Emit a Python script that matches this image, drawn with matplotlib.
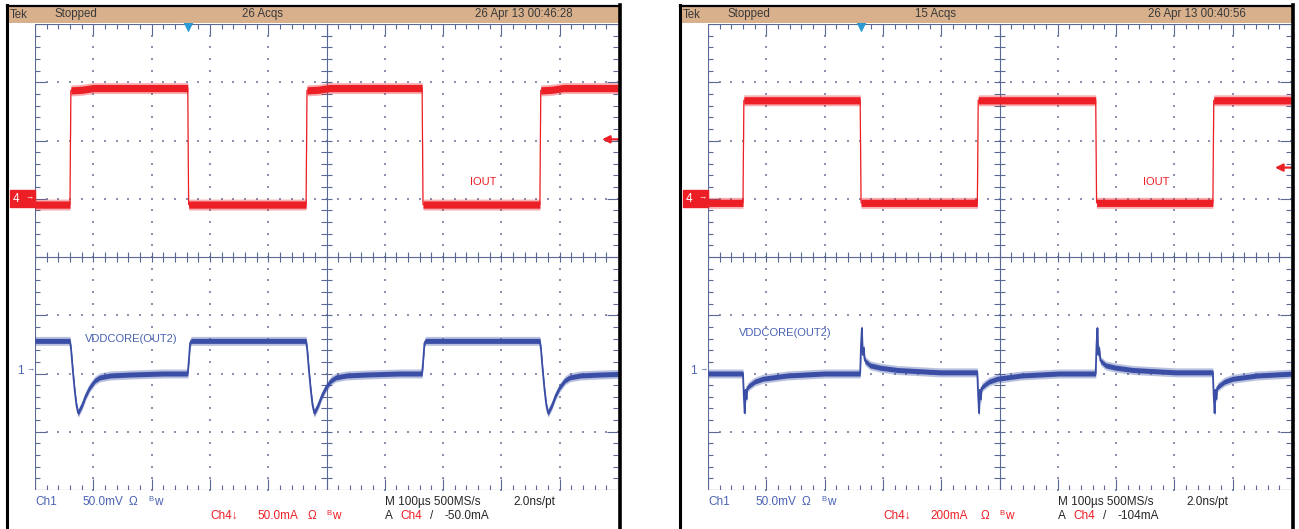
import matplotlib
matplotlib.use("Agg")
import matplotlib.pyplot as plt
import numpy as np
from matplotlib.collections import LineCollection
from matplotlib.patches import Rectangle
from matplotlib.transforms import blended_transform_factory

# ---------------- values read off the two scope captures ----------------
# time base 100 us/div over 10 div, Ch1 50 mV/div, Ch4 shown inverted
T_END_US = 1000
US_PER_DIV = 100.0
CH1_MV_DIV = 50.0
CH1_GND_DIV = -2.0
CH4_GND_DIV = 1.0

# left capture
L_HEADER = ["Tek", "Stopped", "26 Acqs", "26 Apr 13 00:46:28"]
L_CH1_TEXT, L_CH4_TEXT, L_TRIG_TEXT = "50.0mV", "50.0mA", "-50.0mA"
L_CH4_MA_DIV = 50.0
L_EDGES_US = [60, 262, 465, 664, 866]
L_IOUT_START_MA = -5
L_IOUT_RISE_T = [0, 1.5, 20, 40]
L_IOUT_RISE_MA = [-5, 93, 93.5, 95]
L_IOUT_FALL_T = [0, 1.5]
L_IOUT_FALL_MA = [95, -5]
L_VDD_START_MV = 28
L_VDD_STEP_T = [0, 2, 5, 8, 11, 14, 17, 21, 27, 34, 43, 51, 69, 103, 160]
L_VDD_STEP_MV = [28, 20, 2, -14, -27, -34, -31, -27, -19, -12, -6, -3.4, -1.7, -0.9, 0]
L_VDD_REL_T = [0, 2, 4, 6]
L_VDD_REL_MV = [0, 12, 26, 28]
L_TRIG_MA = 51
L_TRIG_POS_US = 262

# right capture
R_HEADER = ["Tek", "Stopped", "15 Acqs", "26 Apr 13 00:40:56"]
R_CH1_TEXT, R_CH4_TEXT, R_TRIG_TEXT = "50.0mV", "200mA", "-104mA"
R_CH4_MA_DIV = 200.0
R_EDGES_US = [60, 261, 462, 665, 866]
R_IOUT_START_MA = -14
R_IOUT_RISE_T = [0, 1.5]
R_IOUT_RISE_MA = [-14, 338]
R_IOUT_FALL_T = [0, 1.5]
R_IOUT_FALL_MA = [338, -14]
R_VDD_START_MV = 0
R_VDD_STEP_T = [0, 1.5, 3, 4.5, 6, 7.5, 12, 20, 34, 76, 140]
R_VDD_STEP_MV = [0, -20, -34, -14, -22, -12, -10, -7, -4.5, -1.7, 0]
R_VDD_REL_T = [0, 1.5, 3, 4.5, 6, 8, 17, 34, 64, 137]
R_VDD_REL_MV = [0, 25, 39, 16, 22, 11, 7, 5, 3, 1]
R_TRIG_MA = 107
R_TRIG_POS_US = 263

# ---------------- look ----------------
FIG_W, FIG_H = 1299, 529
DIV_PX = 58.25
GRAT_TOP, GRAT_BOT, GRAT_W = 24, 490, 583
FONT = ["Liberation Sans", "DejaVu Sans"]
RED = "#ec1f26"
BLUE = "#3a4ea6"
BLUE_TXT = "#4a63b3"
DARK = "#262626"
GRAT = "#5b6896"
DOT = "#8a90ad"
HEAD_BG = "#d8b08c"
HEAD_TXT = "#3a3a3a"
TRIG_BLUE = "#2b9bd6"


def build(edges, start, rise, fall):
    t, v = [0.0], [start]
    for k, e in enumerate(edges):
        dt, dv = rise if k % 2 == 0 else fall
        t.append(e)
        v.append(v[-1])
        t += [e + d for d in dt]
        v += list(dv)
    t.append(T_END_US)
    v.append(v[-1])
    return np.array(t, float) / US_PER_DIV, np.array(v, float)


def graticule(ax):
    px = 1 / DIV_PX
    hx = np.round(np.arange(0, 10.001, 0.2), 3)
    vy = np.round(np.arange(-4, 4.001, 0.2), 3)
    xs, ys = [], []
    for g in range(1, 10):
        if g != 5:
            xs += [g] * len(vy)
            ys += list(vy)
    for g in range(-3, 4):
        if g != 0:
            xs += list(hx)
            ys += [g] * len(hx)
    ax.scatter(xs, ys, s=2.2, marker="s", color=DOT, lw=0, zorder=1)
    segs = [[(0, -4), (0, 4)], [(0, -4), (10, -4)], [(0, 4), (10, 4)],
            [(5, -4), (5, 4)], [(0, 0), (10, 0)]]
    for x in hx:
        L = (11 if abs(x - round(x)) < 1e-6 else 5) * px
        segs += [[(x, 4), (x, 4 - L)], [(x, -4), (x, -4 + L)],
                 [(x, -5 * px), (x, 5 * px)]]
    for y in vy:
        L = (11 if abs(y - round(y)) < 1e-6 else 5) * px
        segs += [[(0, y), (L, y)], [(10, y), (10 - L, y)],
                 [(5 - 5 * px, y), (5 + 5 * px, y)]]
    ax.add_collection(LineCollection(segs, colors=GRAT, lw=0.8, zorder=1))


def trace(ax, x, y, color, hw_out, hw_in, lw):
    ax.fill_between(x, y - hw_out / DIV_PX, y + hw_out / DIV_PX, color=color,
                    alpha=0.35, lw=0, zorder=3)
    ax.fill_between(x, y - hw_in / DIV_PX, y + hw_in / DIV_PX, color=color,
                    lw=0, zorder=3)
    ax.plot(x, y, color=color, lw=lw, zorder=4)


fig = plt.figure(figsize=(FIG_W / 100, FIG_H / 100), dpi=100)
fig.patch.set_facecolor("white")
ov = fig.add_axes([0, 0, 1, 1], zorder=5)
ov.set_xlim(0, FIG_W)
ov.set_ylim(FIG_H, 0)
ov.axis("off")
ov.patch.set_alpha(0)

panels = [
    dict(gx=35, head=L_HEADER, ch1=L_CH1_TEXT, ch4=L_CH4_TEXT, trig=L_TRIG_TEXT,
         ma_div=L_CH4_MA_DIV, edges=L_EDGES_US,
         iout=(L_IOUT_START_MA, (L_IOUT_RISE_T, L_IOUT_RISE_MA), (L_IOUT_FALL_T, L_IOUT_FALL_MA)),
         vdd=(L_VDD_START_MV, (L_VDD_STEP_T, L_VDD_STEP_MV), (L_VDD_REL_T, L_VDD_REL_MV)),
         trig_ma=L_TRIG_MA, trig_pos=L_TRIG_POS_US, iout_lab=(7.68, 1.29), vdd_lab=(0.86, -1.40)),
    dict(gx=708, head=R_HEADER, ch1=R_CH1_TEXT, ch4=R_CH4_TEXT, trig=R_TRIG_TEXT,
         ma_div=R_CH4_MA_DIV, edges=R_EDGES_US,
         iout=(R_IOUT_START_MA, (R_IOUT_RISE_T, R_IOUT_RISE_MA), (R_IOUT_FALL_T, R_IOUT_FALL_MA)),
         vdd=(R_VDD_START_MV, (R_VDD_STEP_T, R_VDD_STEP_MV), (R_VDD_REL_T, R_VDD_REL_MV)),
         trig_ma=R_TRIG_MA, trig_pos=R_TRIG_POS_US, iout_lab=(7.68, 1.29), vdd_lab=(0.53, -1.30)),
]

for p in panels:
    gx = p["gx"]
    ax = fig.add_axes([gx / FIG_W, (FIG_H - GRAT_BOT) / FIG_H, GRAT_W / FIG_W,
                       (GRAT_BOT - GRAT_TOP) / FIG_H])
    ax.set_xlim(0, 10)
    ax.set_ylim(-4, 4)
    ax.axis("off")
    graticule(ax)

    t4, i4 = build(p["edges"], *p["iout"])
    trace(ax, t4, CH4_GND_DIV + i4 / p["ma_div"], RED, 5.5, 3.6, 0.9)
    t1, v1 = build(p["edges"], *p["vdd"])
    trace(ax, t1, CH1_GND_DIV + v1 / CH1_MV_DIV, BLUE, 4.5, 2.5, 1.3)

    ax.text(*p["iout_lab"], "IOUT", color=RED, fontsize=8, family=FONT,
            ha="center", va="center", zorder=6)
    ax.text(*p["vdd_lab"], "VDDCORE(OUT2)", color=BLUE_TXT, fontsize=8,
            family=FONT, ha="left", va="center", zorder=6)

    # channel ground markers, trigger level and trigger position
    bl = blended_transform_factory(ax.transAxes, ax.transData)
    ax.add_patch(Rectangle((-25 / GRAT_W, CH4_GND_DIV - 8.5 / DIV_PX), 25 / GRAT_W,
                           17 / DIV_PX, transform=bl, color=RED, clip_on=False, zorder=6))
    ax.text(-19 / GRAT_W, CH4_GND_DIV, "4", color="white", fontsize=8.5, family=FONT,
            transform=bl, ha="center", va="center", zorder=7)
    ax.text(-6 / GRAT_W, CH4_GND_DIV + 1 / DIV_PX, "\u2192", color="white", fontsize=6,
            family=FONT, transform=bl, ha="center", va="center", zorder=7)
    ax.text(-15 / GRAT_W, CH1_GND_DIV + 3 / DIV_PX, "1", color=BLUE_TXT, fontsize=8.5,
            family=FONT, transform=bl, ha="center", va="center", zorder=7)
    ax.text(-5 / GRAT_W, CH1_GND_DIV + 4 / DIV_PX, "\u2192", color=BLUE_TXT, fontsize=6,
            family=FONT, transform=bl, ha="center", va="center", zorder=7)
    ty = CH4_GND_DIV + p["trig_ma"] / p["ma_div"]
    ax.annotate("", xy=(1 - 16 / GRAT_W, ty), xytext=(1.0, ty), xycoords=bl,
                arrowprops=dict(arrowstyle="-|>", color=RED, lw=1.6,
                                mutation_scale=11, shrinkA=0, shrinkB=0),
                annotation_clip=False, zorder=7)
    ax.plot([p["trig_pos"] / US_PER_DIV], [4 - 3 / DIV_PX], marker="v", ms=7,
            color=TRIG_BLUE, mec="none", clip_on=False, zorder=7)

    # frame + header bar
    fl, fr = gx - 27.5, gx + GRAT_W + 2
    ov.add_patch(Rectangle((fl, 6), fr - fl, 16.5, color=HEAD_BG, lw=0))
    ov.plot([fl, fr], [5.5, 5.5], color="black", lw=1.6)
    ov.plot([fl, fl], [5, FIG_H], color="black", lw=2.2)
    ov.plot([fr, fr], [5, FIG_H], color="black", lw=2.6)
    for dx, s in zip([-25, 20, 207, 440], p["head"]):
        ov.text(gx + dx, 14.5, s, color=HEAD_TXT, fontsize=8.3, family=FONT,
                ha="left", va="center")

    # readouts under the graticule
    r1, r2 = 502, 516
    foot = [
        (0, r1, "Ch1", BLUE_TXT, 8.5), (47, r1, p["ch1"], BLUE_TXT, 8.5),
        (94, r1, "\u03a9", BLUE_TXT, 8.5), (113, r1 - 2.5, "B", BLUE_TXT, 5.5),
        (119, r1, "w", BLUE_TXT, 8.5),
        (175, r2, "Ch4\u2193", RED, 8.5), (222, r2, p["ch4"], RED, 8.5),
        (273, r2, "\u03a9", RED, 8.5), (291, r2 - 2.5, "B", RED, 5.5),
        (297, r2, "w", RED, 8.5),
        (350, r1, "M 100\u00b5s 500MS/s", DARK, 8.5), (478, r1, "2.0ns/pt", DARK, 8.5),
        (350, r2, "A", DARK, 8.5), (365, r2, "Ch4", RED, 8.5),
        (395, r2, "/", DARK, 8.5), (410, r2, p["trig"], DARK, 8.5),
    ]
    for dx, y, s, c, fs in foot:
        ov.text(gx + dx, y, s, color=c, fontsize=fs, family=FONT, ha="left", va="center")

fig.savefig("out.png", dpi=100)
